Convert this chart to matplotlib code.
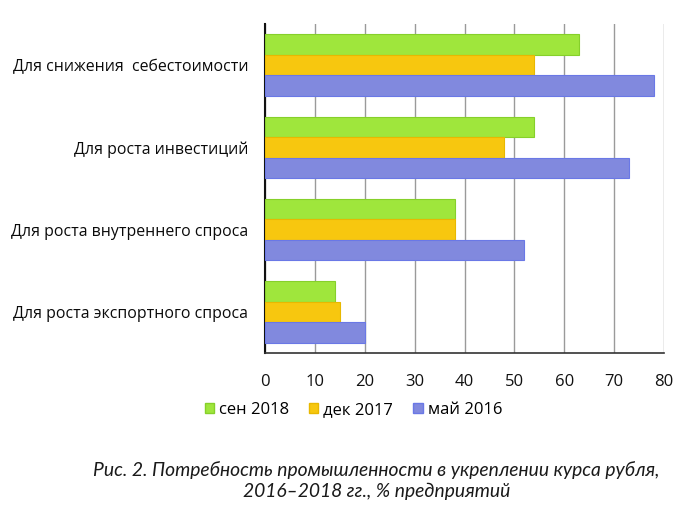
import matplotlib
matplotlib.use("Agg")
import matplotlib.pyplot as plt
import numpy as np
from matplotlib.patches import Patch

categories = ["Для снижения  себестоимости", "Для роста инвестиций",
              "Для роста внутреннего спроса", "Для роста экспортного спроса"]
series_names = ["сен 2018", "дек 2017", "май 2016"]
sep2018 = [63, 54, 38, 14]
dec2017 = [54, 48, 38, 15]
may2016 = [78, 73, 52, 20]
x_ticks = [0, 10, 20, 30, 40, 50, 60, 70, 80]
caption = "Рис. 2. Потребность промышленности в укреплении курса рубля,\n2016–2018 гг., % предприятий"

colors = ["#9fe63c", "#f7c70f", "#8189de"]
edges = ["#86d02a", "#e8b800", "#6a78e6"]

plt.rcParams['font.family'] = ['Open Sans', 'DejaVu Sans']

fig = plt.figure(figsize=(7.0, 5.28), dpi=100)
ax = fig.add_axes([265/700, 1-353/528, (664-265)/700, (353-24)/528])

y = np.arange(len(categories))
h = 0.25
for i, (vals, c, e) in enumerate(zip([sep2018, dec2017, may2016], colors, edges)):
    ax.barh(y + (i-1)*h, vals, height=h, color=c, edgecolor=e, linewidth=0.8, zorder=3)

ax.set_xlim(0, 80)
ax.set_ylim(3.5, -0.5)
ax.set_xticks(x_ticks)
ax.set_xticklabels([str(t) for t in x_ticks], fontsize=12, color="#111111")
ax.set_yticks(y)
ax.set_yticklabels(categories, fontsize=11.4, color="#0a0a0a")
ax.tick_params(axis='both', length=0)
ax.tick_params(axis='y', pad=12)
ax.tick_params(axis='x', pad=15)
ax.grid(axis='x', color="#9a9a9a", linewidth=1.0, zorder=0)
for s in ["top", "right"]:
    ax.spines[s].set_visible(False)
ax.spines["left"].set_color("#111111")
ax.spines["left"].set_linewidth(1.5)
ax.spines["bottom"].set_color("#333333")
ax.spines["bottom"].set_linewidth(1.2)

handles = [Patch(facecolor=c, edgecolor=e) for c, e in zip(colors, edges)]
fig.legend(handles, series_names, loc="center", bbox_to_anchor=(0.505, 1-410/528), ncol=3,
           frameon=False, fontsize=12, handlelength=0.55, handleheight=0.55,
           handletextpad=0.3, columnspacing=1.2)

fig.text(0.538, 1-481/528, caption, ha="center", va="center", fontsize=13.9,
         style="italic", family=["Lato", "DejaVu Sans"], color="#1a1a1a", linespacing=1.25)

fig.savefig("out.png", dpi=100)
